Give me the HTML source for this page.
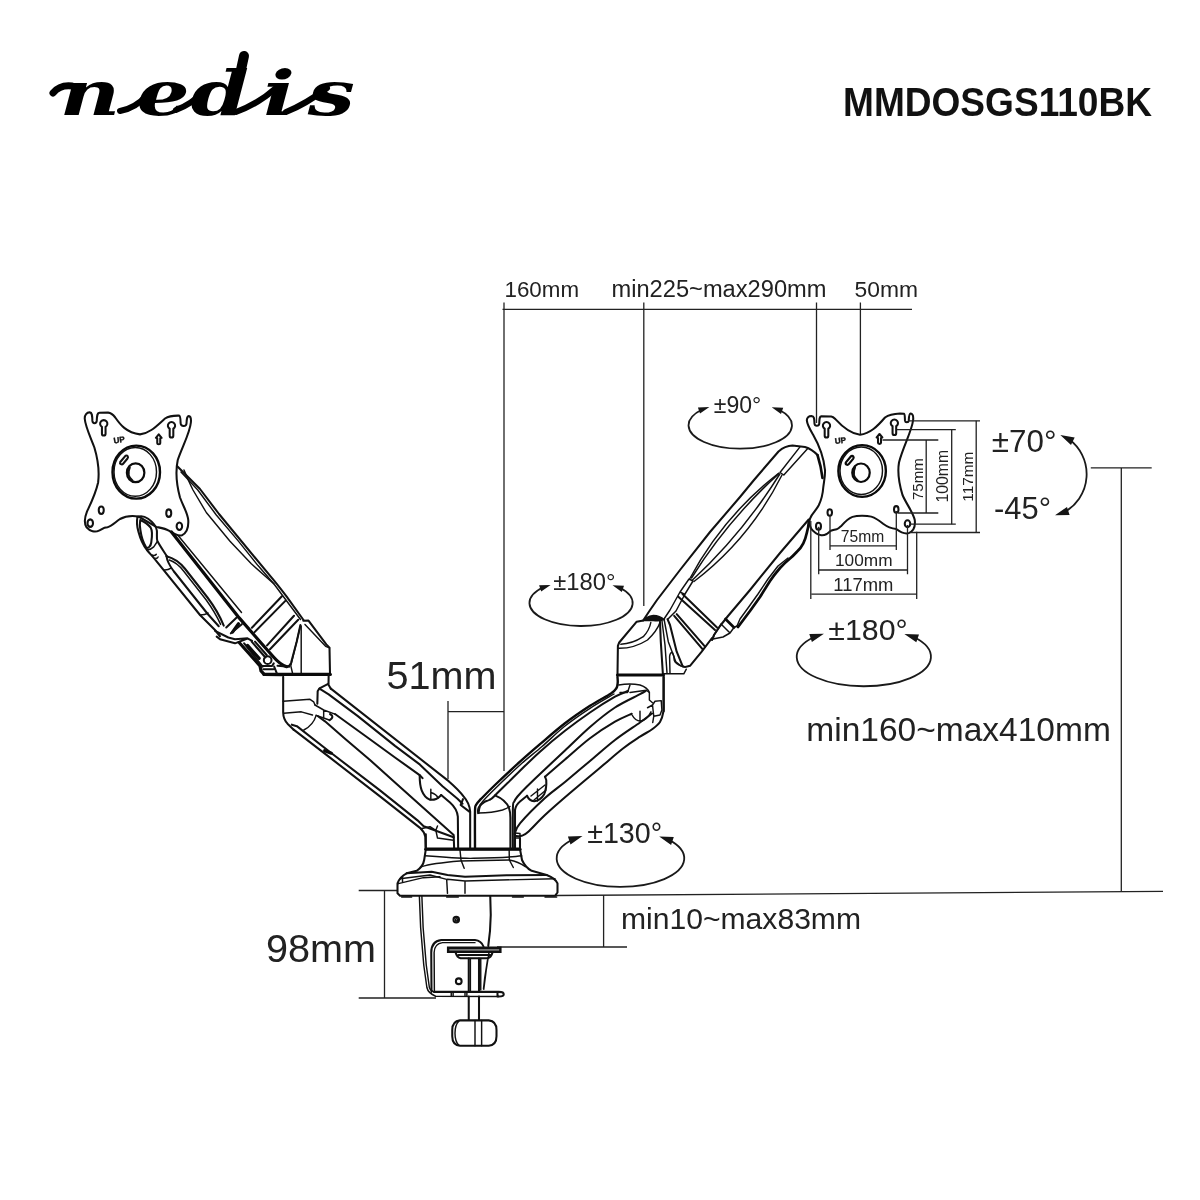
<!DOCTYPE html>
<html><head><meta charset="utf-8"><title>nedis MMDOSGS110BK</title>
<style>
html,body{margin:0;padding:0;background:#fff;}
body{width:1200px;height:1200px;overflow:hidden;font-family:"Liberation Sans",sans-serif;}
svg{display:block;will-change:transform;}
text{font-family:"Liberation Sans",sans-serif;fill:#222;}
.l{fill:none;stroke:#222;stroke-width:1.3;vector-effect:non-scaling-stroke;}
.d{fill:none;stroke:#111;stroke-width:2.05;stroke-linecap:round;stroke-linejoin:round;vector-effect:non-scaling-stroke;}
.t{fill:none;stroke:#111;stroke-width:1.45;stroke-linecap:round;stroke-linejoin:round;vector-effect:non-scaling-stroke;}
.k{fill:none;stroke:#0a0a0a;stroke-width:3.2;stroke-linecap:round;stroke-linejoin:round;vector-effect:non-scaling-stroke;}
.w{fill:#fff;stroke:#111;stroke-width:2.05;stroke-linecap:round;stroke-linejoin:round;vector-effect:non-scaling-stroke;}
.f{fill:#151515;stroke:none;}
</style></head><body>
<svg width="1200" height="1200" viewBox="0 0 1200 1200">
<!-- header -->
<g transform="translate(50,115) scale(1.35,1)"><text x="7 64 104 158 191" y="0" style="font-family:'DejaVu Serif','Liberation Serif',serif;font-style:italic;font-weight:bold;font-size:62px;fill:#000">nedis</text></g>
<!-- brush flourishes linking the script logo letters (decorative) -->
<g style="fill:none;stroke:#000;stroke-linecap:round">
<path d="M53 93Q60 84.5 72 86" stroke-width="7"/>
<path d="M120 111Q136 108 147 95" stroke-width="6"/>
<path d="M176 110Q192 104 204 91" stroke-width="6"/>
<path d="M236 112Q258 104 276 88" stroke-width="6"/>
<path d="M286 112Q306 104 327 88" stroke-width="6"/>
<path d="M240.5 72L244 56" stroke-width="10"/>
</g>
<text x="843" y="116" font-weight="bold" font-size="40" textLength="309" lengthAdjust="spacingAndGlyphs" style="fill:#111">MMDOSGS110BK</text>
<!-- dimension labels -->
<text x="504.5" y="296.5" font-size="22.4" textLength="74.5" lengthAdjust="spacingAndGlyphs">160mm</text>
<text x="611.5" y="296.5" font-size="23" textLength="215" lengthAdjust="spacingAndGlyphs">min225~max290mm</text>
<text x="854.5" y="296.5" font-size="22.6" textLength="63.5" lengthAdjust="spacingAndGlyphs">50mm</text>
<text x="386.5" y="688.8" font-size="38.6" textLength="110" lengthAdjust="spacingAndGlyphs">51mm</text>
<text x="266" y="961.7" font-size="38.6" textLength="110" lengthAdjust="spacingAndGlyphs">98mm</text>
<text x="621" y="929" font-size="29.5" textLength="240" lengthAdjust="spacingAndGlyphs">min10~max83mm</text>
<text x="806.3" y="741.3" font-size="33.5" textLength="304.5" lengthAdjust="spacingAndGlyphs">min160~max410mm</text>
<text x="991.8" y="451.5" font-size="31.4" textLength="64.7" lengthAdjust="spacingAndGlyphs">±70°</text>
<text x="994" y="519" font-size="30.9" textLength="57" lengthAdjust="spacingAndGlyphs">-45°</text>
<text x="828.3" y="639.8" font-size="30.3" textLength="79.4" lengthAdjust="spacingAndGlyphs">±180°</text>
<!-- dimension lines -->
<g class="l">
<path d="M502.5 309.3H912"/>
<path d="M504 302.5V771"/>
<path d="M643.8 302.5V606"/>
<path d="M816.5 302.5V423"/>
<path d="M860.4 302.5V435"/>
<path d="M448 701V779M448 711.7H504"/>
<path d="M358.7 890.5H398M384.5 890.5V998M358.7 998H436"/>
<path d="M556 895.5L1163 891.3"/>
<path d="M603.6 895V947M497 947H627"/>
<path d="M1090.8 467.8H1151.7M1121.3 467.8V891.6"/>
</g>
<!-- rotation ellipses -->
<path class="l" style="stroke:#1a1a1a;stroke-width:1.8" d="M702.1 409.5A51.7 23.4 0 1 0 779.0 409.8"/><path class="f" d="M709.4 407.0L700.0 413.6L697.9 407.4ZM771.7 407.2L783.2 407.7L781.0 414.0Z"/>
<path class="l" style="stroke:#1a1a1a;stroke-width:1.8" d="M543.3 587.3A51.6 23.0 0 1 0 619.8 587.8"/><path class="f" d="M550.6 584.9L541.2 591.5L539.1 585.2ZM612.5 585.3L624.0 585.7L621.8 592.0Z"/>
<path class="l" style="stroke:#1a1a1a;stroke-width:1.8" d="M573.2 839.2A63.8 28.5 0 1 0 668.5 839.6"/><path class="f" d="M582.5 836.1L570.5 844.5L567.9 836.5ZM659.2 836.4L673.8 837.0L671.1 844.9Z"/>
<path class="l" style="stroke:#1a1a1a;stroke-width:1.8" d="M814.6 636.7A67.1 29.5 0 1 0 913.7 637.0"/><path class="f" d="M823.9 633.7L811.9 642.0L809.3 634.0ZM904.4 633.9L919.0 634.4L916.3 642.3Z"/>
<path class="l" style="stroke:#1a1a1a;stroke-width:1.8" d="M1069.1 439.3A43.5 43.5 0 0 1 1064.3 512.2"/><path class="f" d="M1060.3 435.0L1074.7 437.4L1071.0 444.9ZM1055.0 515.3L1067.0 506.9L1069.6 514.9Z"/>
<!-- left VESA plate (traced at 8x, origin 70,400) -->
<defs>
<g id="plate">
<path class="w" d="M118 150C116 120 135 98 158 99C176 100 178 120 179 165C181 192 212 192 214 165C216 120 218 104 235 102L305 101C330 103 345 118 362 140C400 195 450 262 560 275C640 268 700 200 760 148C790 128 830 124 872 125C884 126 884 150 885 185C887 215 930 215 932 188C934 150 936 130 950 128C964 130 970 150 967 180C960 260 900 370 862 480C845 560 848 660 880 780C905 850 940 900 946 960C950 1020 930 1065 895 1083C860 1092 820 1065 790 1045C760 1028 720 1022 690 1015L548 932C500 925 440 930 400 952C365 975 335 1010 300 1018C265 1018 255 1035 232 1045C200 1060 160 1050 132 1018C112 985 115 945 135 895C165 830 205 750 225 660C235 580 225 480 195 380C165 300 122 210 118 150Z"/>
<!-- keyholes -->
<path class="d" style="fill:#fff" d="M255.5 215.1A29 29 0 1 1 284.5 215.1L284.5 270A14.5 14.5 0 0 1 255.5 270Z"/>
<path class="d" style="fill:#fff" d="M797.5 230.1A29 29 0 1 1 826.5 230.1L826.5 285A14.5 14.5 0 0 1 797.5 285Z"/>
<!-- small arrow slot -->
<path class="d" style="fill:#fff" d="M710 275L733 303L722 306L722 345C722 357 698 357 698 345L698 306L687 303Z"/>
<!-- UP text -->
<text x="352" y="347" style="font-size:64px;font-weight:bold;fill:#111;stroke:#111;stroke-width:3" transform="rotate(-8 352 347)">UP</text>
<!-- hub -->
<ellipse class="k" style="stroke-width:2.4" cx="530" cy="577" rx="190" ry="212"/>
<ellipse class="t" cx="522" cy="575" rx="170" ry="195"/>
<ellipse class="k" style="stroke-width:2.2" cx="525" cy="582" rx="70" ry="75"/>
<path class="d" d="M478 540C460 580 470 620 500 645"/>
<path class="d" d="M445 445C460 440 470 455 460 468L425 510C415 522 395 512 402 496Z"/>
<!-- lower holes -->
<ellipse class="d" cx="250" cy="882" rx="20" ry="30"/>
<ellipse class="d" cx="790" cy="905" rx="20" ry="30"/>
<ellipse class="d" cx="162" cy="985" rx="22" ry="30"/>
<ellipse class="d" cx="875" cy="1010" rx="22" ry="30"/>
</g>
</defs>
<use href="#plate" transform="translate(70,400) scale(0.125)"/>
<!-- left upper arm (real coords) -->
<g>
<path class="d" d="M177 466L200 489L219 514L270.8 576.7Q277 584 286.7 596.7L303.5 620"/>
<path class="t" d="M181 472L197.8 490L216.3 515L238 540.6L258 565.6L273.8 583.8L285 598.8L300.5 619.5"/>
<path class="t" d="M184 470Q189 482 193 490L206.3 512.5L230 541.3L251.3 563.8L273.8 583.8"/>
<!-- thick cover edge -->
<path class="k" d="M171.5 532L225 600L239.2 617.9L260 641.7L273.3 656.7Q280 664.5 286.7 666.7"/>
<path class="t" d="M178.5 536L241.5 612.5"/>
<path class="d" d="M286.7 666.7Q290 666 291 663L296.7 641.7L300.4 625"/>
<path class="t" d="M292.5 673L290.8 665.8L300.4 626"/>
<!-- bands -->
<path class="d" d="M281.9 596.3L251.9 627.7M285.6 600.6L254.6 632.1M294 615.8L267.1 645.4M298.2 619.8L270 649.2"/>
<!-- elbow block -->
<path class="d" d="M303.3 620.8L308.5 620.6L326.3 644.4L329.5 647.7L330 673.8"/>
<path class="t" d="M305 624.4L325.6 646.3L329.5 647.9M301.2 626V673.5"/>
<path class="k" d="M264 674.4H330.3"/>
</g>
<!-- left bracket top (8x, origin 120,490) -->
<g transform="translate(120,490) scale(0.125)">
<path class="d" d="M140 215C132 250 135 290 148 335C160 380 185 440 215 480C240 510 260 530 280 555L640 1000L760 1120L800 1170"/>
<path class="d" d="M140 215C165 205 200 212 225 230C260 255 290 290 295 325C298 355 290 385 300 410C315 440 350 490 375 530"/>
<path class="d" d="M162 240C195 255 225 275 245 300C260 325 258 370 250 420C246 450 225 470 210 460C190 430 170 370 163 320C158 290 158 260 162 240Z"/>
<path class="t" d="M215 480C235 478 255 470 270 455M270 455L300 410M255 520Q275 530 290 515M285 545Q300 550 305 535"/>
<path class="d" d="M372 530C378 580 400 610 430 650L700 990L790 1090"/>
<path class="d" d="M372 530C430 545 480 580 520 630L700 860C760 940 800 1010 830 1085"/>
<path class="t" d="M395 560C440 575 480 610 510 650L690 880C740 950 780 1020 805 1075"/>
<path class="t" d="M350 640Q385 642 408 625M640 1000Q680 1000 705 985"/>
</g>
<!-- left elbow pivot details (12x, origin 220,600) -->
<g transform="translate(220,600) scale(0.083333)">
<path class="k" d="M222 285L150 385"/>
<path class="d" d="M200 210L75 330M262 290L130 400"/>
<path class="d" d="M-60 370L100 450L180 470L330 460L385 490M-40 440L0 470L180 520L330 462"/>
<path class="k" d="M230 510L480 790L492 850L530 892L740 895"/>
<path class="d" d="M290 520L510 800M380 500L545 690M420 500L560 660"/>
<path class="k" d="M330 545L470 700"/>
<circle class="d" cx="572" cy="722" r="46"/>
<path class="d" d="M510 792L625 792L645 760M520 832L640 832M650 800L682 880M690 790L830 800"/>
</g>
<!-- left lower joint + lower arm (6x, origin 280,670) -->
<g transform="translate(280,670) scale(0.166667)">
<!-- joint body -->
<path class="d" d="M19 40L19 255Q20 295 45 322L82 358"/>
<path class="d" d="M292 30L291 88L305 112"/>
<path class="d" d="M289 83L237 110L226 128L224 203"/>
<path class="t" d="M19 188L180 176L202 191L210 210M22 259L128 251L195 270M143 360Q200 330 217 272"/>
<path class="t" d="M210 210L262 240L330 265M217 272L262 288L295 300M262 240L262 290"/>
<path class="d" d="M300 264Q330 280 298 301"/>
<!-- arm lines -->
<path class="d" d="M305 112L1012 667Q1075 722 1100 757Q1138 800 1141 850L1141 1075"/>
<path class="d" d="M237 112L292 146L465 275L690 455L840 568L975 697L1065 772L1095 802"/>
<path class="d" d="M1098 775L1084 810L1136 850"/>
<path class="d" d="M330 264L525 405L690 525L840 632L855 649"/>
<path class="d" d="M838 632Q838 690 850 722Q868 768 900 778Q935 782 960 757L967 750"/>
<path class="d" d="M967 750L1020 795Q1062 832 1067 880L1069 1075"/>
<path class="t" d="M905 715L905 778M905 735Q940 745 948 768"/>
<path class="d" d="M226 276L270 308L390 412L540 540L690 675L1042 990L1045 1075"/>
<path class="d" d="M71 328L101 337L315 504L600 722L825 902L862 938L1042 1003"/>
<path class="d" d="M82 358L300 526L600 758L840 947Q866 972 872 1000L874 1075"/>
<path class="k" d="M268 484L308 499"/>
<path class="t" d="M845 952L900 940L935 962L945 1008L1040 1022M935 962L945 936"/>
</g>
<!-- base (6x, origin 390,760) -->
<g transform="translate(390,760) scale(0.166667)">
<path class="w" d="M215 535L205 600Q198 640 160 665L100 680Q60 700 45 740L45 800L60 815L990 815L1005 795L1005 740Q995 712 940 690L850 665Q812 645 792 600L780 535Z"/>
<path class="k" d="M215 535L780 535"/>
<path class="t" d="M210 575Q420 592 500 590Q720 585 790 575"/>
<path class="t" d="M420 540L426 600L445 650M715 540L716 600L740 645"/>
<path class="t" d="M190 640Q250 620 420 606L716 600Q770 610 812 640"/>
<path class="d" d="M100 680L250 670L345 690L450 700L700 692L940 690"/>
<path class="t" d="M60 712L240 690L340 716L345 800M345 716L450 726L450 800M450 726L990 712"/>
<path class="t" d="M50 742L200 706L300 700M75 700L75 730"/>
<path class="t" d="M70 822H130M340 822H410M735 822H800M930 822H1000"/>
<!-- neck verticals above band -->
<path class="d" d="M215 445L215 530M780 470L780 530"/>
</g>
<!-- clamp (8x, origin 400,890) -->
<g transform="translate(400,890) scale(0.125)">
<path class="t" d="M155 50L165 300L190 600L215 780Q225 825 285 850L790 852"/>
<path class="t" d="M175 50L185 300L210 600L235 780Q245 812 285 818"/>
<path class="d" d="M272 815L790 815Q830 815 830 834Q830 852 790 852M780 815V852"/>
<path class="t" d="M410 815V850M425 815V850M520 815V850M535 815V850"/>
<path class="d" d="M252 815L250 500Q250 410 330 400L600 400Q650 405 668 452"/>
<path class="t" d="M275 815L273 500Q275 430 340 421L600 421"/>
<path class="d" d="M722 48L726 200Q724 330 706 448"/>
<circle class="d" cx="450" cy="237" r="22"/><circle class="t" cx="452" cy="238" r="9"/>
<circle class="d" cx="470" cy="730" r="23"/>
<!-- pad -->
<path d="M385 462H803V495H385Z" style="fill:#777;stroke:#111;stroke-width:2.4;vector-effect:non-scaling-stroke"/>
<path class="d" d="M445 500Q455 540 485 546L700 546Q730 540 740 500M468 520H722"/>
<path class="d" d="M550 548V812M632 548V812M550 852V1040M632 852V1040"/>
<path class="t" d="M563 548V812M646 548V800"/>
<path class="t" d="M712 500L690 640L670 795M700 560L678 700L668 790"/>
<!-- knob -->
<path class="d" d="M480 1043L710 1043Q772 1050 772 1120L772 1170Q772 1240 710 1246L480 1246Q418 1240 418 1170L418 1120Q418 1050 480 1043Z"/>
<path class="t" d="M470 1050Q440 1080 440 1145Q440 1210 470 1240M600 1043V1246M653 1043V1246"/>
</g>
<!-- right lower arm (real coords) -->
<g>
<path class="k" style="stroke-width:2.4" d="M475.0 848.0C475.0 842.0 474.8 819.2 475.0 812.0C475.2 804.8 475.0 807.1 476.0 805.0C477.0 802.9 477.6 802.5 480.8 799.2C484.0 795.9 488.5 791.2 495.0 785.0C501.5 778.8 512.5 768.5 520.0 761.7C527.5 754.9 532.5 750.6 540.0 744.2C547.5 737.8 556.7 729.7 565.0 723.3C573.3 716.9 582.3 710.8 590.0 705.8C597.7 700.8 606.6 696.5 611.0 693.5C615.4 690.5 615.4 689.8 616.5 688.0C617.6 686.2 617.5 684.3 617.7 682.5C617.9 680.7 617.5 677.9 617.5 677.0"/>
<path class="t" d="M477.9 813.5C477.9 812.6 477.3 810.1 478.2 808.0C479.1 805.9 480.5 804.0 483.3 800.8C486.1 797.6 488.9 794.8 495.0 788.8C501.1 782.8 512.2 772.0 520.0 765.0C527.8 758.0 534.5 753.0 542.0 746.5C549.5 740.0 557.0 732.4 565.0 726.0C573.0 719.6 581.8 713.6 590.0 708.3C598.2 703.0 610.0 696.4 614.0 694.0"/>
<path class="d" d="M478.6 813.0C478.8 811.8 479.1 807.8 480.0 806.0C480.9 804.2 482.7 803.1 484.2 802.1C485.7 801.1 487.4 801.1 489.2 800.0C491.0 798.9 489.9 800.3 495.0 795.4C500.1 790.5 512.5 778.1 520.0 770.8C527.5 763.5 532.5 758.4 540.0 751.7C547.5 745.0 556.7 737.3 565.0 730.8C573.3 724.3 581.7 718.2 590.0 712.5C598.3 706.8 608.7 700.3 615.0 696.7C621.3 693.1 625.8 692.0 628.0 691.0"/>
<path class="t" d="M478.6 813Q492 813 502.5 810Q507 808.5 510 806.5"/>
<path class="d" d="M495 795.4Q506 800 509 808Q510.4 812 510.4 818V848"/>
<path class="d" d="M512.9 848.0C512.9 841.3 512.7 815.7 512.9 808.0C513.1 800.3 513.4 803.6 514.2 801.7C515.0 799.8 515.4 799.0 517.5 796.5C519.6 794.0 522.1 791.2 526.7 786.7C531.3 782.2 538.6 775.2 545.0 769.2C551.4 763.2 557.5 757.5 565.0 750.5C572.5 743.5 581.7 734.2 590.0 727.0C598.3 719.8 606.7 713.0 615.0 707.5C623.3 702.0 634.9 697.0 640.0 694.2C645.1 691.5 644.6 691.5 645.5 691.0"/>
<path class="d" d="M515 848V810Q515.8 805 520 801.5L527.1 795.8"/>
<path class="d" d="M527.1 795.8Q529 800.5 534.2 801.3Q540.5 800.5 544.2 794.2Q546.8 788 546.25 780L545 776.7"/>
<path class="t" d="M531 796L545 785M534 800L546 790M537.5 789V801"/>
<path class="d" d="M545.0 776.7C548.3 773.8 557.5 765.9 565.0 759.5C572.5 753.1 581.7 744.6 590.0 738.3C598.3 732.0 608.0 725.8 615.0 721.7C622.0 717.6 628.9 715.0 631.7 713.7"/>
<path class="d" d="M514.6 834.0C515.5 832.2 514.9 829.3 520.0 823.3C525.1 817.3 537.5 804.9 545.0 798.0C552.5 791.1 557.5 788.2 565.0 782.0C572.5 775.8 581.7 768.0 590.0 761.0C598.3 754.0 606.7 746.4 615.0 740.0C623.3 733.6 633.8 726.9 640.0 722.5C646.2 718.1 650.0 715.0 652.0 713.5"/>
<path class="d" d="M515.0 836.0C516.1 836.0 519.5 836.5 521.7 835.8C523.9 835.1 524.4 835.2 528.3 831.7C532.2 828.2 538.0 821.5 545.0 815.0C552.0 808.5 561.1 800.6 570.0 793.0C578.9 785.4 589.4 776.7 598.3 769.2C607.2 761.8 616.3 753.7 623.3 748.3C630.2 742.9 635.1 739.9 640.0 736.7C644.9 733.5 649.2 731.5 652.5 729.0C655.8 726.5 658.2 724.8 660.0 722.0C661.8 719.2 662.7 715.7 663.3 712.0C663.9 708.3 663.5 705.8 663.5 700.0C663.5 694.2 663.5 680.8 663.5 677.0"/>
<!-- right neck -->
<path class="t" d="M515 833L520 833.5L520 848M516 838H520"/>
</g>
<!-- right elbow + upper arm (real coords) -->
<g>
<!-- lower joint under band (8x tile J origin 560,630) -->
<g transform="translate(560,630) scale(0.125)">
<path class="t" d="M470 440Q560 425 640 440Q700 460 715 500L715 560L740 582"/>
<path class="t" d="M480 500L540 500L560 440M560 500L690 482M690 482L715 500"/>
<path class="t" d="M578 682Q600 725 645 730Q700 715 728 655M640 650V728"/>
<path class="t" d="M700 622L740 600L760 570L810 565L815 640L800 680L750 690L742 740M740 600L750 690"/>
<path class="d" d="M830 375V650"/>
</g>
<!-- elbow block -->
<path class="d" d="M617.5 674.2L617.9 645.8L619.2 642.5L636.7 621.7L643.3 620.4"/>
<path d="M643.3 620.6Q646 616.5 653.3 615.4Q660 615.6 664 619.5Q659 621.5 653.3 620.4Q647 620.6 643.3 620.6Z" style="fill:#111;stroke:#111;stroke-width:1.5"/>
<path class="t" d="M620.8 644.2Q632 644 643.3 636.7Q649.5 630 650.8 622.5M618.8 648.3Q634 648.5 647.5 640Q657 631 660 622.5"/>
<path class="d" d="M660 621.7L660.8 641.7L662.9 674.2"/>
<path class="k" d="M617.5 675H663.5"/>
<path class="t" d="M663.3 673.8H683.8L686.3 669.2"/>
<!-- cover pointed end -->
<path class="d" d="M667.5 619.2L670 625L676.7 651.7L682.5 665.8Q684 668 690 665.8L701.7 651.7L712 638"/>
<path class="t" d="M664.2 620L668.3 641.7L675.8 661.7L680.8 665.8M662 621L665 645L667 673"/>
<path class="t" d="M670 673.3L669.6 656.7Q670 652 672.5 652.5Q674 655 674.2 660Q675 663.5 682.5 666.7"/>
<!-- bands -->
<path class="d" d="M674.2 615.8L702.5 649.2M676.7 614.2L705 646.7M678.3 596.7L715 630M682.5 594L717 627.5"/>
<!-- ridge from lens to elbow -->
<path class="t" d="M689 579L680 592L670 610L664 619M693 581L685 594L676 611L668 619M689 579L693 581M680 592L685 594.5"/>
<!-- arm top-left edge -->
<path class="d" d="M643.3 620.2Q650 610 657 600L680 570L710 532L740 497L754 480L778.5 451.5Q785 446 792.5 445.6L805 446.9Q812 449 817.5 455"/>
<!-- lens -->
<path class="t" d="M689.6 579Q722.9 516.6 778.6 473.2"/>
<path class="t" d="M691.5 578Q727.5 520.4 778.8 473.6"/>
<path class="t" d="M692.5 580Q742.8 533.3 779.8 474"/>
<path class="t" d="M694 581.5Q749.7 539.1 782 475"/>
<path class="t" d="M800 446.9L780 472.5M807.5 448.8L783.8 475M780 472.5L783.8 475"/>
<!-- arm lower-right edge + crescent -->
<path class="d" d="M808.7 519.5L780 553L750 590L728 616L720 626L714 635L712 640"/>
<path class="k" style="stroke-width:2.7" d="M809 520.5Q808.5 527 806.7 533.3Q805.5 539 803.3 543.3Q801 548 796.7 552Q793 556 790 558.5Q784 563.5 780 568Q774 575 770 581L760 597L750 611L738 627"/>
<path class="t" d="M788 558L778 566L768 579L758 594L748 608L740 619L737 626"/>
<!-- bracket end -->
<path class="k" style="stroke-width:2.6" d="M725.5 619L734 627.5"/>
<path class="t" d="M721 624L730 633M720 626L714 635L713 639L723 637L730 633L734 627.5L737 626"/>
<!-- arm back edge behind plate -->
<path class="k" style="stroke-width:2.6" d="M817.5 455Q821 466 822.5 478"/>
</g>
<!-- right VESA plate (8x, origin 790,395) -->
<g transform="translate(790,395) scale(0.125)">
<path class="w" d="M135 205C133 180 150 168 172 168C192 170 195 185 196 230C198 252 232 252 234 230C235 190 236 172 250 170L330 172C345 174 352 182 365 195C420 255 480 310 560 318C640 310 700 250 760 180C790 158 830 150 880 148L912 150C920 152 918 180 920 205C922 222 948 222 950 205C952 170 952 150 965 148C980 150 988 170 985 200C975 290 905 410 872 540C860 610 870 700 900 800C930 870 985 940 998 1000C1004 1050 985 1090 950 1105C915 1115 880 1095 850 1072C800 1066 775 1052 745 1030C715 1005 690 985 650 973C610 963 540 963 500 975C460 990 430 1025 410 1048C395 1062 385 1072 374 1074C350 1078 340 1080 326 1086C310 1100 300 1108 294 1112C275 1122 262 1124 250 1122C230 1118 215 1112 208 1106C190 1092 176 1082 170 1070C160 1050 152 1035 154 1015C154 1000 160 985 172 965C188 940 212 915 230 882C250 840 262 800 266 740C272 690 282 650 280 600C270 500 235 405 185 318C160 275 138 240 135 205Z"/>
<path class="d" style="fill:#fff" d="M277.5 270.1A29 29 0 1 1 306.5 270.1L306.5 325A14.5 14.5 0 0 1 277.5 325Z"/>
<path class="d" style="fill:#fff" d="M820.5 250.1A29 29 0 1 1 849.5 250.1L849.5 305A14.5 14.5 0 0 1 820.5 305Z"/>
<path class="d" style="fill:#fff" d="M716 312L739 340L728 343L728 382C728 394 704 394 704 382L704 343L693 340Z"/>
<text x="362" y="392" style="font-size:64px;font-weight:bold;fill:#111;stroke:#111;stroke-width:3" transform="rotate(-8 362 392)">UP</text>
<ellipse class="k" style="stroke-width:2.4" cx="577" cy="608" rx="190" ry="207"/>
<ellipse class="t" cx="570" cy="606" rx="170" ry="190"/>
<ellipse class="k" style="stroke-width:2.2" cx="568" cy="622" rx="70" ry="74"/>
<path class="d" d="M520 580C502 620 512 660 542 685"/>
<path class="k" style="stroke-width:2.2" d="M490 488C505 483 515 498 505 511L470 553C460 565 440 555 447 539Z"/>
<ellipse class="d" cx="318" cy="940" rx="18" ry="26"/>
<ellipse class="d" cx="850" cy="915" rx="18" ry="26"/>
<ellipse class="d" cx="228" cy="1050" rx="20" ry="28"/>
<ellipse class="d" cx="940" cy="1030" rx="22" ry="28"/>
</g>
<!-- VESA dimension lines -->
<g class="l">
<path d="M908.3 420.8H980M896.7 429.7H955.8M882.5 440H938.3M898 513H938.3M910 524.2H955.8M910 532.5H980"/>
<path d="M926.2 440V513M951.7 429.7V524.2M976.2 420.8V532.5"/>
<path d="M830 515V550M896.3 511V550M818.7 526.7V574.2M907.5 525V574.2M810.8 521V599M916.7 531.7V599"/>
<path d="M830 545.8H896.3M818.7 570H907.5M811.3 594.2H916.7"/>
</g>
<text x="840.8" y="541.7" font-size="15.6" textLength="43.4" lengthAdjust="spacingAndGlyphs">75mm</text>
<text x="835" y="565.8" font-size="17.2" textLength="57.5" lengthAdjust="spacingAndGlyphs">100mm</text>
<text x="833.3" y="590.8" font-size="18" textLength="60" lengthAdjust="spacingAndGlyphs">117mm</text>
<text transform="translate(922.5,500) rotate(-90)" font-size="15" textLength="41.7" lengthAdjust="spacingAndGlyphs">75mm</text>
<text transform="translate(947.5,502.5) rotate(-90)" font-size="15.7" textLength="52.5" lengthAdjust="spacingAndGlyphs">100mm</text>
<text transform="translate(972.5,501.7) rotate(-90)" font-size="15" textLength="50" lengthAdjust="spacingAndGlyphs">117mm</text>
<text x="713.75" y="412.5" font-size="23" textLength="47.5" lengthAdjust="spacingAndGlyphs">±90°</text>
<text x="553.25" y="589.5" font-size="23.8" textLength="62.25" lengthAdjust="spacingAndGlyphs">±180°</text>
<text x="587.2" y="843.3" font-size="28.8" textLength="75" lengthAdjust="spacingAndGlyphs">±130°</text>

</svg>
</body></html>
